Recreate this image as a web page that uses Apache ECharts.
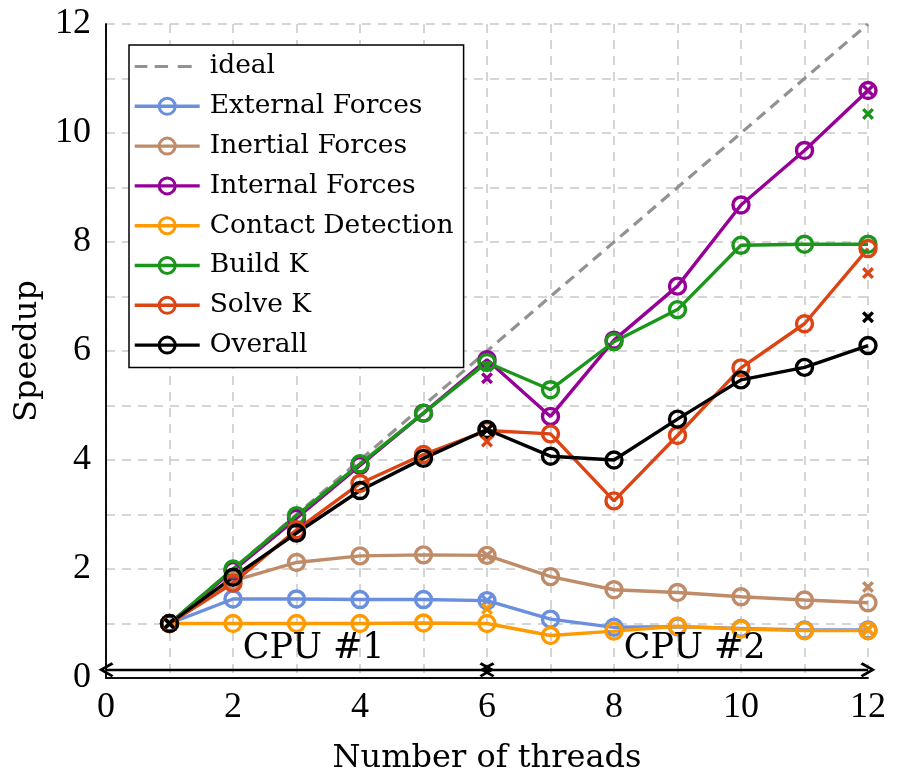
<!DOCTYPE html>
<html><head><meta charset="utf-8">
<script src="https://cdn.jsdelivr.net/npm/echarts@6/dist/echarts.min.js"></script>
<style>html,body{margin:0;padding:0;background:#fff}#c{width:900px;height:781px}</style>
</head><body><div id="c"></div>
<script>
// ---- data ----
const threads = [1, 2, 3, 4, 5, 6, 7, 8, 9, 10, 11, 12];
const ideal = [1, 2, 3, 4, 5, 6, 7, 8, 9, 10, 11, 12];
const externalForces = [1, 1.45, 1.45, 1.44, 1.44, 1.42, 1.08, 0.93, 0.94, 0.91, 0.88, 0.88];
const inertialForces = [1, 1.78, 2.12, 2.24, 2.26, 2.25, 1.86, 1.62, 1.57, 1.49, 1.43, 1.38];
const internalForces = [1, 1.97, 2.93, 3.90, 4.86, 5.84, 4.80, 6.20, 7.19, 8.68, 9.68, 10.78];
const contactDetection = [1, 1.0, 1.0, 1.0, 1.01, 1.0, 0.78, 0.86, 0.95, 0.90, 0.87, 0.87];
const buildK = [1, 2.0, 2.98, 3.93, 4.86, 5.79, 5.29, 6.17, 6.76, 7.94, 7.96, 7.96];
const solveK = [1, 1.74, 2.72, 3.57, 4.10, 4.54, 4.48, 3.25, 4.45, 5.69, 6.50, 7.88];
const overall = [1, 1.85, 2.66, 3.44, 4.03, 4.56, 4.07, 4.00, 4.75, 5.47, 5.70, 6.10];

// extra "x" estimates at 1, 6 and 12 threads
const markThreads = [1, 6, 12];
const markExternal = [1, 1.42, 0.89];
const markInertial = [1, 2.25, 1.67];
const markInternal = [1, 5.50, 10.78];
const markContact = [1, 1.27, 0.89];
const markBuildK = [1, 5.72, 10.35];
const markSolveK = [1, 4.34, 7.43];
const markOverall = [1, 4.55, 6.62];

const cpuLabels = ['CPU #1', 'CPU #2'];
const cpuSpans = [[0, 6], [6, 12]];

const xTicks = [0, 2, 4, 6, 8, 10, 12];
const yTicks = [0, 2, 4, 6, 8, 10, 12];

// ---- styles ----
const serif = 'DejaVu Serif';
const digits = 'Liberation Serif';
const C = {
  ideal: '#929292', ext: '#6a8fdf', inr: '#bf8b68', int: '#960096',
  con: '#ff9a00', bk: '#1b961b', sk: '#dc4414', ov: '#000000'
};
const xPath = 'path://M0,2 L2,0 L5,3 L8,0 L10,2 L7,5 L10,8 L8,10 L5,7 L2,10 L0,8 L3,5 Z';
const chevron = 'path://M5,0 L10,8.2 L8.6,9.4 L5,3.4 L1.4,9.4 L0,8.2 Z';
const dashIcon = 'path://M0,0h0.02v0.02h-0.02Z M64.98,19.98h0.02v0.02h-0.02Z M0,8.5h12.7v3h-12.7Z M20,8.5h13.4v3h-13.4Z M43,8.5h14v3h-14Z';

function pairs(xs, ys) { return xs.map((x, i) => [x, ys[i]]); }

function lineS(name, ys, color) {
  return {
    name, type: 'line', data: pairs(threads, ys),
    symbol: 'circle', symbolSize: 16, showSymbol: true,
    lineStyle: { color, width: 3.4 },
    itemStyle: { color: 'rgba(255,255,255,0)', borderColor: color, borderWidth: 3.4 },
    emphasis: { disabled: true }, animation: false, z: 3
  };
}
function markS(name, ys, color) {
  return {
    name, type: 'scatter', data: pairs(markThreads, ys),
    symbol: xPath, symbolSize: 12, itemStyle: { color, opacity: 1 },
    emphasis: { disabled: true }, animation: false, z: 4
  };
}

const legendNames = ['ideal', 'External Forces', 'Inertial Forces', 'Internal Forces',
  'Contact Detection', 'Build K', 'Solve K', 'Overall'];

const arrowY = 0.15;
const cpuTextY = 0.53;

const series = [
  {
    name: 'ideal', type: 'line', data: pairs(threads, ideal), symbol: 'circle', showSymbol: false,
    lineStyle: { color: C.ideal, width: 3.2, type: [11, 7] },
    itemStyle: { color: C.ideal }, emphasis: { disabled: true }, animation: false, z: 2
  },
  lineS('External Forces', externalForces, C.ext),
  lineS('Inertial Forces', inertialForces, C.inr),
  lineS('Internal Forces', internalForces, C.int),
  lineS('Contact Detection', contactDetection, C.con),
  lineS('Build K', buildK, C.bk),
  lineS('Solve K', solveK, C.sk),
  lineS('Overall', overall, C.ov),
  markS('mExternal', markExternal, C.ext),
  markS('mInertial', markInertial, C.inr),
  markS('mInternal', markInternal, C.int),
  markS('mContact', markContact, C.con),
  markS('mBuildK', markBuildK, C.bk),
  markS('mSolveK', markSolveK, C.sk),
  markS('mOverall', markOverall, C.ov),
  {
    name: 'cpu', type: 'line', data: [], animation: false, z: 5,
    markLine: {
      silent: true, animation: false, symbol: [chevron, chevron], symbolSize: 15,
      lineStyle: { color: '#000', width: 2.4, type: 'solid', opacity: 1 }, label: { show: false },
      emphasis: { disabled: true },
      data: cpuSpans.map(s => [{ coord: [s[0], arrowY] }, { coord: [s[1], arrowY] }])
    }
  },
  {
    name: 'cpuText', type: 'scatter', symbolSize: 1, animation: false, z: 5,
    itemStyle: { color: 'rgba(0,0,0,0)', opacity: 1 }, emphasis: { disabled: true },
    data: cpuLabels.map((t, i) => [(cpuSpans[i][0] + cpuSpans[i][1]) / 2 + 0.27, cpuTextY, t]),
    label: {
      show: true, position: 'inside', formatter: p => p.value[2],
      fontFamily: serif, fontSize: 35, color: '#000', opacity: 1
    }
  }
];

const evenFmt = v => (xTicks.indexOf(v) >= 0 ? String(v) : '');
const evenFmtY = v => (yTicks.indexOf(v) >= 0 ? String(v) : '');
const gridLine = { show: true, lineStyle: { color: '#c8c8c8', width: 1.5, type: [9, 7] } };
const blackLine = { show: true, lineStyle: { color: '#000', width: 1.5 } };

const option = {
  backgroundColor: '#fff',
  animation: false,
  grid: { left: 106, top: 24, width: 762, height: 654, outerBoundsMode: 'none', containLabel: false },
  xAxis: [{
    type: 'value', min: 0, max: 12, interval: 1,
    axisLine: blackLine, axisTick: { show: false }, splitLine: gridLine,
    axisLabel: { formatter: evenFmt, fontFamily: digits, fontSize: 36, color: '#000', margin: 12 },
    name: 'Number of threads', nameLocation: 'middle', nameGap: 65,
    nameTextStyle: { fontFamily: serif, fontSize: 32, color: '#000' }
  }, {
    type: 'value', min: 0, max: 12, interval: 1, position: 'top',
    axisLine: blackLine, axisTick: { show: false }, splitLine: { show: false }, axisLabel: { show: false }
  }],
  yAxis: [{
    type: 'value', min: 0, max: 12, interval: 1,
    axisLine: blackLine, axisTick: { show: false }, splitLine: gridLine,
    axisLabel: { formatter: evenFmtY, fontFamily: digits, fontSize: 36, color: '#000', margin: 15 },
    name: 'Speedup', nameLocation: 'middle', nameGap: 57, nameRotate: 90,
    nameTextStyle: { fontFamily: serif, fontSize: 32, color: '#000' }
  }, {
    type: 'value', min: 0, max: 12, interval: 1, position: 'right',
    axisLine: blackLine, axisTick: { show: false }, splitLine: { show: false }, axisLabel: { show: false }
  }],
  legend: {
    orient: 'vertical', left: 129, top: 45,
    data: legendNames.map((n, i) => (i === 0 ? { name: n, icon: dashIcon } : { name: n })),
    itemWidth: 65, itemHeight: 20, itemGap: 12.8, padding: [8, 10, 9, 4],
    backgroundColor: '#fff', borderColor: '#000', borderWidth: 1.5, borderRadius: 0,
    selectedMode: false,
    lineStyle: { width: 3.4 },
    itemStyle: { borderWidth: 3 },
    textStyle: { fontFamily: serif, fontSize: 26.5, color: '#000', lineHeight: 22, padding: [0, 0, 0, 5] }
  },
  series
};

const chart = echarts.init(document.getElementById('c'), null, { renderer: 'canvas' });
chart.setOption(option);
</script></body></html>
